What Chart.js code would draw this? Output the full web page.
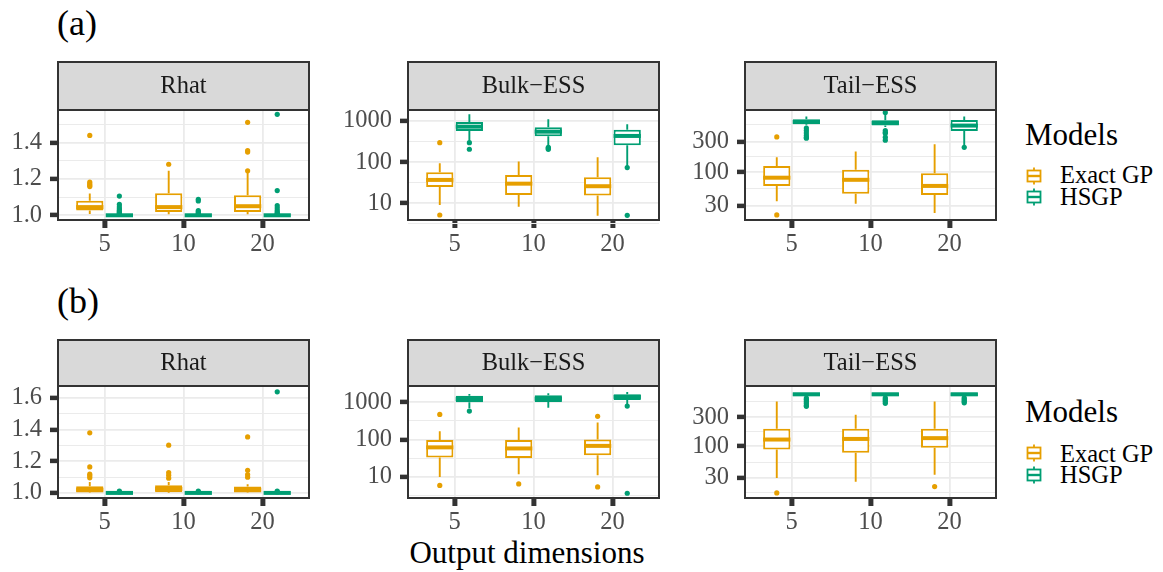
<!DOCTYPE html>
<html>
<head>
<meta charset="utf-8">
<script src="https://cdn.jsdelivr.net/npm/chart.js@4.4.1/dist/chart.umd.min.js"></script>
<style>
  body { margin: 0; background: #ffffff; }
  #page { position: relative; width: 1163px; height: 572px; overflow: hidden; font-family: "Liberation Serif", serif; }
  #page canvas, #page svg { position: absolute; }
</style>
</head>
<body>
<div id="page">
  <svg width="1163" height="572" style="left:0;top:0" font-family="Liberation Serif, serif">
    <text x="57" y="35" font-size="36" fill="#000">(a)</text>
    <text x="57" y="313" font-size="36" fill="#000">(b)</text>
    <text x="527" y="563" font-size="31" fill="#000" text-anchor="middle">Output dimensions</text>

    <!-- legend, row a -->
    <text x="1025" y="145" font-size="31" fill="#000">Models</text>
    <g stroke="#E69F00" stroke-width="1.8" fill="#ffffff">
      <line x1="1034" y1="167.5" x2="1034" y2="184.5"/>
      <rect x="1027.5" y="170.5" width="13" height="11"/>
      <line x1="1027.5" y1="176" x2="1040.5" y2="176" stroke-width="2.4"/>
    </g>
    <g stroke="#009E73" stroke-width="1.8" fill="#ffffff">
      <line x1="1034" y1="188.5" x2="1034" y2="205.5"/>
      <rect x="1027.5" y="191.5" width="13" height="11"/>
      <line x1="1027.5" y1="197" x2="1040.5" y2="197" stroke-width="2.4"/>
    </g>
    <text x="1060" y="183" font-size="24.5" fill="#000">Exact GP</text>
    <text x="1060" y="205" font-size="24.5" fill="#000">HSGP</text>

    <!-- legend, row b -->
    <text x="1025" y="422" font-size="31" fill="#000">Models</text>
    <g stroke="#E69F00" stroke-width="1.8" fill="#ffffff">
      <line x1="1034" y1="444.5" x2="1034" y2="461.5"/>
      <rect x="1027.5" y="447.5" width="13" height="11"/>
      <line x1="1027.5" y1="453" x2="1040.5" y2="453" stroke-width="2.4"/>
    </g>
    <g stroke="#009E73" stroke-width="1.8" fill="#ffffff">
      <line x1="1034" y1="466.5" x2="1034" y2="483.5"/>
      <rect x="1027.5" y="469.5" width="13" height="11"/>
      <line x1="1027.5" y1="475" x2="1040.5" y2="475" stroke-width="2.4"/>
    </g>
    <text x="1060" y="462" font-size="24.5" fill="#000">Exact GP</text>
    <text x="1060" y="483" font-size="24.5" fill="#000">HSGP</text>
  </svg>
</div>
<script>
const dims = ['5', '10', '20'];
const models = ['Exact GP', 'HSGP'];
const exactColor = '#E69F00';
const hsgpColor = '#009E73';

// box stats per output dimension: [lower whisker, q1, median, q3, upper whisker]
// (a) Rhat
const aRhatExact = [[1.007, 1.027, 1.045, 1.08, 1.12], [1.005, 1.018, 1.045, 1.121, 1.245], [1.006, 1.018, 1.05, 1.11, 1.235]];
const aRhatExactOut = [[1.44, 1.183, 1.174, 1.166, 1.158], [1.281], [1.245, 1.348, 1.357, 1.512]];
const aRhatHsgp = [[1.0, 1.0, 1.0, 1.001, 1.004], [1.0, 1.0, 1.0, 1.001, 1.004], [1.0, 1.0, 1.0, 1.001, 1.004]];
const aRhatHsgpOut = [[1.106, 1.06, 1.046, 1.036, 1.028, 1.022, 1.016, 1.012, 1.008], [1.088, 1.079, 1.026, 1.019, 1.013, 1.008], [1.556, 1.136, 1.053, 1.04, 1.027, 1.018, 1.011, 1.007]];
// (a) Bulk-ESS
const aBulkExact = [[9.1, 25, 37, 57, 94], [8.3, 16, 30, 49, 103], [5.0, 15.4, 26, 43, 131]];
const aBulkExactOut = [[297, 5.2], [], []];
const aBulkHsgp = [[333, 572, 728, 946, 1455], [247, 425, 550, 703, 1100], [80, 257, 433, 616, 830]];
const aBulkHsgpOut = [[297, 206], [229, 218, 205], [74, 5.1]];
// (a) Tail-ESS
const aTailExact = [[35, 61, 82, 125, 171], [32, 46, 76, 109, 210], [23, 44, 61, 96, 274]];
const aTailExactOut = [[356, 21.5], [], []];
const aTailHsgp = [[540, 563, 611, 673, 740], [510, 535, 590, 646, 790], [267, 442, 535, 656, 740]];
const aTailHsgpOut = [[490, 450, 410, 375, 350, 340], [860, 447, 420, 406, 352, 316], [245]];
// (b) Rhat
const bRhatExact = [[1.0, 1.003, 1.02, 1.042, 1.069], [1.0, 1.004, 1.025, 1.048, 1.069], [1.0, 1.002, 1.02, 1.04, 1.055]];
const bRhatExactOut = [[1.379, 1.164, 1.118, 1.107, 1.095], [1.301, 1.128, 1.112, 1.093], [1.353, 1.143, 1.116, 1.099]];
const bRhatHsgp = [[1.0, 1.0, 1.0, 1.001, 1.002], [1.0, 1.0, 1.0, 1.001, 1.002], [1.0, 1.0, 1.0, 1.001, 1.002]];
const bRhatHsgpOut = [[1.011, 1.006], [1.011, 1.006], [1.637, 1.011, 1.006]];
// (b) Bulk-ESS
const bBulkExact = [[10, 33, 62, 97, 169], [11.8, 32, 58, 97, 213], [11, 38, 68, 101, 290]];
const bBulkExactOut = [[475, 5.9], [6.5], [421, 5.4]];
const bBulkHsgp = [[690, 1000, 1227, 1506, 1672], [716, 1020, 1250, 1540, 1750], [870, 1153, 1400, 1640, 1893]];
const bBulkHsgpOut = [[583], [], [795, 3.65]];
// (b) Tail-ESS
const bTailExact = [[30, 88, 129, 194, 548], [26, 78, 132, 194, 330], [34, 94, 136, 194, 548]];
const bTailExactOut = [[17], [], [21.6]];
const bTailHsgp = [[650, 670, 720, 764, 764], [650, 670, 720, 764, 764], [650, 670, 720, 764, 764]];
const bTailHsgpOut = [[625, 595, 565, 535, 505, 475, 455], [630, 600, 570, 540, 510], [630, 600, 570, 540, 520]];

// axis breaks
const rhatMajorA = [1.0, 1.2, 1.4];
const rhatMajorB = [1.0, 1.2, 1.4, 1.6];
const rhatMinor = [1.1, 1.3, 1.5];
const bulkMajor = [10, 100, 1000];
const bulkMinor = [3.162, 31.62, 316.2];
const tailMajor = [30, 100, 300];
const tailMinor = [17.32, 54.77, 173.2, 547.7];

const rows = [
    {stripTop: 62, panelTop: 110, panelBottom: 220},
    {stripTop: 340, panelTop: 386, panelBottom: 498}
];

const panels = [
    {row: 0, left: 58, strip: 'Rhat', log: false, min: 0.974, max: 1.58, major: rhatMajorA, minor: rhatMinor,
        exact: aRhatExact, exactOut: aRhatExactOut, hsgp: aRhatHsgp, hsgpOut: aRhatHsgpOut},
    {row: 0, left: 408, strip: 'Bulk\u2212ESS', log: true, min: 3.93, max: 1849, major: bulkMajor, minor: bulkMinor,
        exact: aBulkExact, exactOut: aBulkExactOut, hsgp: aBulkHsgp, hsgpOut: aBulkHsgpOut},
    {row: 0, left: 745, strip: 'Tail\u2212ESS', log: true, min: 17.9, max: 937, major: tailMajor, minor: tailMinor,
        exact: aTailExact, exactOut: aTailExactOut, hsgp: aTailHsgp, hsgpOut: aTailHsgpOut},
    {row: 1, left: 58, strip: 'Rhat', log: false, min: 0.968, max: 1.674, major: rhatMajorB, minor: rhatMinor,
        exact: bRhatExact, exactOut: bRhatExactOut, hsgp: bRhatHsgp, hsgpOut: bRhatHsgpOut},
    {row: 1, left: 408, strip: 'Bulk\u2212ESS', log: true, min: 2.72, max: 2744, major: bulkMajor, minor: bulkMinor,
        exact: bBulkExact, exactOut: bBulkExactOut, hsgp: bBulkHsgp, hsgpOut: bBulkHsgpOut},
    {row: 1, left: 745, strip: 'Tail\u2212ESS', log: true, min: 14, max: 986, major: tailMajor, minor: tailMinor,
        exact: bTailExact, exactOut: bTailExactOut, hsgp: bTailHsgp, hsgpOut: bTailHsgpOut}
];

const textFont = {family: '"Liberation Serif", serif', size: 24.5};
const yAxisWidth = 72;

// grey strip with the facet name above the panel, plus the dark frames
const facetStrip = {
    id: 'facetStrip',
    beforeDraw(chart, args, opts) {
        const ctx = chart.ctx;
        const a = chart.chartArea;
        const top = a.top - opts.height;
        ctx.save();
        ctx.fillStyle = '#D9D9D9';
        ctx.fillRect(a.left, top, a.right - a.left, opts.height);
        ctx.fillStyle = '#1A1A1A';
        ctx.font = '24.5px "Liberation Serif", serif';
        ctx.textAlign = 'center';
        ctx.textBaseline = 'middle';
        ctx.fillText(opts.text, (a.left + a.right) / 2, top + opts.height / 2 + 1);
        ctx.restore();
    },
    afterDraw(chart, args, opts) {
        const ctx = chart.ctx;
        const a = chart.chartArea;
        ctx.save();
        ctx.strokeStyle = '#333333';
        ctx.lineWidth = 2;
        ctx.strokeRect(a.left, a.top - opts.height, a.right - a.left, opts.height);
        ctx.strokeRect(a.left, a.top, a.right - a.left, a.bottom - a.top);
        ctx.restore();
    }
};

// whiskers, median and outlier points on top of the floating bars (the boxes)
const boxWhiskers = {
    id: 'boxWhiskers',
    afterDatasetsDraw(chart) {
        const ctx = chart.ctx;
        const y = chart.scales.y;
        chart.data.datasets.forEach((ds, i) => {
            const meta = chart.getDatasetMeta(i);
            meta.data.forEach((bar, j) => {
                const s = ds.stats[j];
                const half = bar.width / 2;
                ctx.save();
                ctx.strokeStyle = ds.borderColor;
                ctx.fillStyle = ds.borderColor;
                ctx.lineWidth = 1.9;
                ctx.beginPath();
                ctx.moveTo(bar.x, y.getPixelForValue(s[3]));
                ctx.lineTo(bar.x, y.getPixelForValue(s[4]));
                ctx.moveTo(bar.x, y.getPixelForValue(s[1]));
                ctx.lineTo(bar.x, y.getPixelForValue(s[0]));
                ctx.stroke();
                ctx.lineWidth = 4;
                const ym = y.getPixelForValue(s[2]);
                ctx.beginPath();
                ctx.moveTo(bar.x - half, ym);
                ctx.lineTo(bar.x + half, ym);
                ctx.stroke();
                ds.outliers[j].forEach(v => {
                    ctx.beginPath();
                    ctx.arc(bar.x, y.getPixelForValue(v), 2.6, 0, Math.PI * 2);
                    ctx.fill();
                });
                ctx.restore();
            });
        });
    }
};

function boxDataset(label, stats, outliers, color) {
    return {
        label: label,
        data: stats.map((s, j) => ({x: j + 1, y: [s[1], s[3]]})),
        stats: stats,
        outliers: outliers,
        backgroundColor: '#ffffff',
        borderColor: color,
        borderWidth: 2,
        borderSkipped: false,
        categoryPercentage: 0.75,
        barPercentage: 0.92
    };
}

function fmtTick(p, v) {
    return p.log ? String(v) : v.toFixed(1);
}

function drawPanel(p) {
    const r = rows[p.row];
    const top = r.stripTop - 2;
    const canvas = document.createElement('canvas');
    canvas.width = yAxisWidth + 251 + 2;
    canvas.height = r.panelBottom - top + 42;
    canvas.style.left = (p.left - yAxisWidth) + 'px';
    canvas.style.top = top + 'px';
    document.getElementById('page').appendChild(canvas);

    new Chart(canvas, {
        type: 'bar',
        data: {
            datasets: [
                boxDataset(models[0], p.exact, p.exactOut, exactColor),
                boxDataset(models[1], p.hsgp, p.hsgpOut, hsgpColor)
            ]
        },
        options: {
            responsive: false,
            animation: false,
            devicePixelRatio: 1,
            layout: {autoPadding: false, padding: {top: r.panelTop - top, right: 2, left: 0, bottom: 0}},
            plugins: {
                legend: {display: false},
                tooltip: {enabled: false},
                facetStrip: {text: p.strip, height: r.panelTop - r.stripTop}
            },
            scales: {
                x: {
                    type: 'linear',
                    min: 0.41,
                    max: 3.59,
                    offset: false,
                    afterBuildTicks: s => { s.ticks = dims.map((d, i) => ({value: i + 1})); },
                    afterFit: s => { s.height = 42; },
                    ticks: {
                        callback: v => dims[v - 1],
                        font: textFont,
                        color: '#4D4D4D',
                        padding: 2,
                        maxRotation: 0,
                        autoSkip: false
                    },
                    grid: {offset: false, color: '#EBEBEB', lineWidth: 1.8, tickColor: '#333333', tickWidth: 5, tickLength: 8},
                    border: {display: false}
                },
                y: {
                    type: p.log ? 'logarithmic' : 'linear',
                    min: p.min,
                    max: p.max,
                    afterBuildTicks: s => {
                        s.ticks = p.major.map(v => ({value: v}))
                            .concat(p.minor.map(v => ({value: v, minorLine: true})));
                    },
                    afterFit: s => { s.width = yAxisWidth; },
                    ticks: {
                        callback: (v, i, t) => t[i].minorLine ? '' : fmtTick(p, v),
                        font: textFont,
                        color: '#4D4D4D',
                        padding: 8,
                        autoSkip: false
                    },
                    grid: {
                        color: '#EBEBEB',
                        lineWidth: c => (c.tick && c.tick.minorLine) ? 1 : 1.8,
                        tickColor: c => (c.tick && c.tick.minorLine) ? 'rgba(0,0,0,0)' : '#333333',
                        tickWidth: 4.5,
                        tickLength: 8
                    },
                    border: {display: false}
                }
            }
        },
        plugins: [facetStrip, boxWhiskers]
    });
}

panels.forEach(drawPanel);
</script>
</body>
</html>
